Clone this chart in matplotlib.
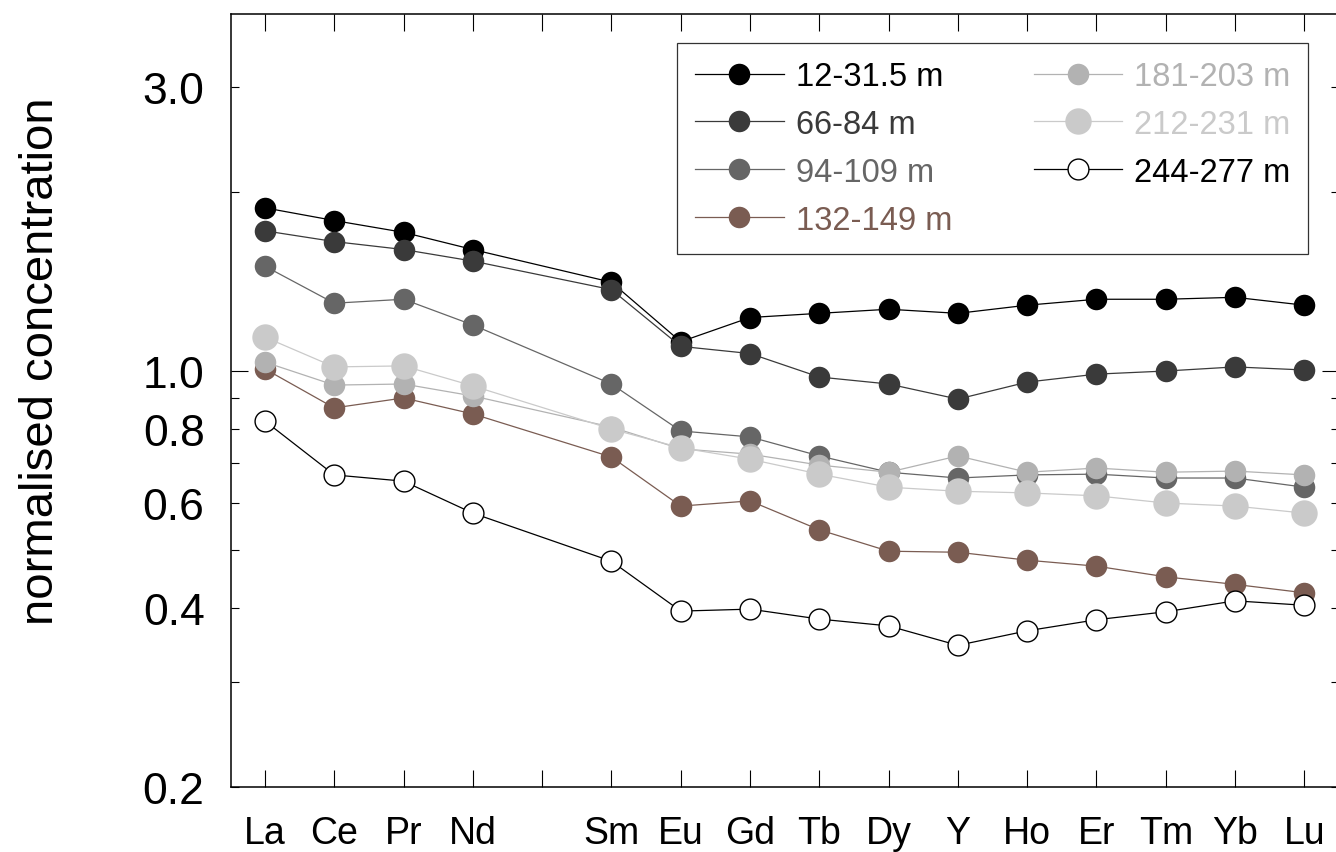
import matplotlib
matplotlib.use("Agg")
import matplotlib.pyplot as plt
from matplotlib.ticker import FixedLocator, FixedFormatter

plt.rcParams['font.family'] = ['Liberation Sans', 'DejaVu Sans']

# tick slots (blank slot = Pm, not measured)
slots = ['La', 'Ce', 'Pr', 'Nd', '', 'Sm', 'Eu', 'Gd', 'Tb', 'Dy', 'Y', 'Ho', 'Er', 'Tm', 'Yb', 'Lu']
elements = ['La', 'Ce', 'Pr', 'Nd', 'Sm', 'Eu', 'Gd', 'Tb', 'Dy', 'Y', 'Ho', 'Er', 'Tm', 'Yb', 'Lu']

s_12_31 = [1.88, 1.79, 1.71, 1.60, 1.41, 1.12, 1.23, 1.25, 1.27, 1.25, 1.29, 1.32, 1.32, 1.33, 1.29]
s_66_84 = [1.72, 1.65, 1.60, 1.53, 1.37, 1.10, 1.07, 0.977, 0.951, 0.897, 0.958, 0.988, 1.0, 1.016, 1.004]
s_94_109 = [1.50, 1.30, 1.32, 1.195, 0.951, 0.793, 0.775, 0.72, 0.676, 0.661, 0.669, 0.671, 0.661, 0.661, 0.638]
s_132_149 = [1.008, 0.867, 0.901, 0.847, 0.717, 0.593, 0.605, 0.541, 0.498, 0.496, 0.481, 0.470, 0.451, 0.438, 0.424]
s_181_203 = [1.035, 0.947, 0.951, 0.908, 0.805, 0.74, 0.725, 0.695, 0.676, 0.72, 0.676, 0.687, 0.676, 0.679, 0.669]
s_212_231 = [1.14, 1.016, 1.02, 0.944, 0.799, 0.743, 0.711, 0.671, 0.638, 0.628, 0.624, 0.617, 0.600, 0.593, 0.577]
s_244_277 = [0.824, 0.669, 0.653, 0.577, 0.479, 0.395, 0.398, 0.383, 0.373, 0.346, 0.366, 0.382, 0.394, 0.411, 0.404]

labels = ['12-31.5 m', '66-84 m', '94-109 m', '132-149 m', '181-203 m', '212-231 m', '244-277 m']
series = [s_12_31, s_66_84, s_94_109, s_132_149, s_181_203, s_212_231, s_244_277]
line_colors = ['#000000', '#3a3a3a', '#666666', '#7a5c52', '#b2b2b2', '#cacaca', '#000000']
face_colors = ['#000000', '#3a3a3a', '#666666', '#7a5c52', '#b2b2b2', '#cacaca', '#ffffff']
text_colors = ['#000000', '#3a3a3a', '#666666', '#7a5c52', '#b2b2b2', '#cacaca', '#000000']
msizes = [15.5, 15.5, 15.5, 15.5, 15.5, 19, 15]

fig = plt.figure(figsize=(13.36, 8.53), dpi=100)
ax = fig.add_axes([231/1336, 1 - 788/853, 1108/1336, 773/853])

xpos = [slots.index(e) for e in elements]
for vals, lab, lc, fc, ms in zip(series, labels, line_colors, face_colors, msizes):
    ec = '#000000' if fc == '#ffffff' else fc
    ax.plot(xpos, vals, '-', color=lc, lw=0.9, marker='o', ms=ms,
            mfc=fc, mec=ec, mew=1.0 if fc == '#ffffff' else 0.0, label=lab)

ax.set_yscale('log')
ax.set_ylim(0.2, 3.98)
ax.set_xlim(-0.49, 15.5)

ax.set_xticks(range(len(slots)))
ax.set_xticklabels(slots)
ax.yaxis.set_major_locator(FixedLocator([1.0]))
ax.yaxis.set_major_formatter(FixedFormatter(['1.0']))
minor_vals = [0.2, 0.3, 0.4, 0.5, 0.6, 0.7, 0.8, 0.9, 2.0, 3.0]
minor_labs = ['0.2', '', '0.4', '', '0.6', '', '0.8', '', '', '3.0']
ax.yaxis.set_minor_locator(FixedLocator(minor_vals))
ax.yaxis.set_minor_formatter(FixedFormatter(minor_labs))

ax.tick_params(axis='x', which='major', direction='in', length=12, width=0.8,
               top=True, bottom=True, labelsize=27, pad=20)
ax.tick_params(axis='x', which='minor', bottom=False, top=False)
ax.tick_params(axis='y', which='major', direction='in', length=12, width=0.8,
               left=True, right=True, labelsize=32, pad=19)
ax.tick_params(axis='y', which='minor', direction='in', length=6, width=0.8,
               left=True, right=True, labelsize=32, pad=19)
for sp in ax.spines.values():
    sp.set_linewidth(1.1)

ax.set_ylabel('normalised concentration', fontsize=34)
ax.yaxis.set_label_coords(-0.152, 0.552)

leg = ax.legend(ncol=2, loc='upper right', bbox_to_anchor=(0.972, 0.9625),
                fontsize=23.5, frameon=True, fancybox=False, edgecolor='#000000',
                handlelength=2.7, handletextpad=0.37, columnspacing=2.5,
                labelspacing=0.52, borderpad=0.55, borderaxespad=0.0)
leg.get_frame().set_linewidth(0.9)
for txt, c in zip(leg.get_texts(), text_colors):
    txt.set_color(c)

fig.savefig('out.png', dpi=100)
